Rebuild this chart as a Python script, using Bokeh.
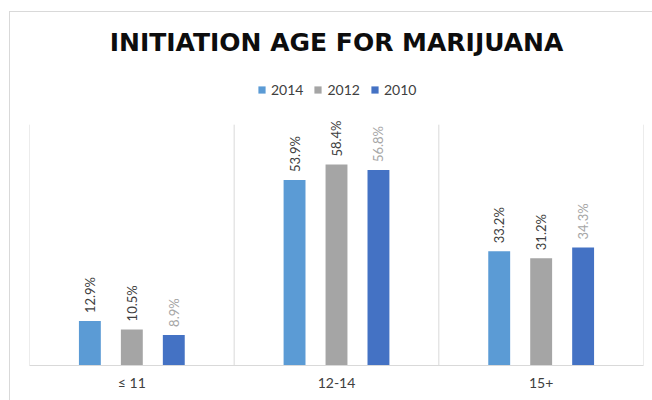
from bokeh.plotting import figure
from bokeh.models import ColumnDataSource, FactorRange, Range1d, Legend, LegendItem
from bokeh.transform import dodge
from bokeh.core.properties import value
from bokeh.embed import file_html
from bokeh.resources import INLINE

# ---- data ----
categories = ["≤ 11", "12-14", "15+"]
years = ["2014", "2012", "2010"]
v2014 = [12.9, 53.9, 33.2]
v2012 = [10.5, 58.4, 31.2]
v2010 = [8.9, 56.8, 34.3]
title_text = "INITIATION AGE FOR MARIJUANA"

# ---- style ----
bar_colors = ["#5B9BD5", "#A5A5A5", "#4472C4"]
label_colors = ["#404040", "#404040", "#A6A6A6"]
offsets = [-0.205, 0.0, 0.205]
bar_width = 0.107
axis_max = 70
FONT = "Lato"

src = ColumnDataSource(dict(cat=categories, y2014=v2014, y2012=v2012, y2010=v2010,
                            l2014=[f"{v:.1f}%" for v in v2014],
                            l2012=[f"{v:.1f}%" for v in v2012],
                            l2010=[f"{v:.1f}%" for v in v2010]))

p = figure(x_range=FactorRange(factors=categories, range_padding=0),
           y_range=Range1d(0, 106.1),
           width=652, height=400, output_backend="svg", toolbar_location=None,
           min_border_left=29, min_border_right=9, min_border_top=0, min_border_bottom=35)

p.outline_line_color = None
p.xgrid.visible = False
p.ygrid.visible = False
p.yaxis.visible = False
p.border_fill_alpha = 0
p.background_fill_alpha = 0
g = "linear-gradient(#D9D9D9, #D9D9D9)"
p.styles = {
    "background": f"{g} 9px 11px / 1px 389px no-repeat, {g} 9px 11px / 643px 1px no-repeat, #FFFFFF",
}

# category separators
n = len(categories)
bounds = list(range(n + 1))
p.segment(x0=bounds, y0=[0] * (n + 1), x1=bounds, y1=[axis_max] * (n + 1),
          line_color="#D9D9D9", line_width=1)

renderers = []
for yr, off, bc, lc in zip(years, offsets, bar_colors, label_colors):
    r = p.vbar(x=dodge("cat", off, range=p.x_range), top="y" + yr, width=bar_width,
               source=src, fill_color=bc, line_color=None)
    renderers.append(r)
    p.text(x=dodge("cat", off, range=p.x_range), y="y" + yr, text="l" + yr, source=src,
           angle=1.5708, y_offset=-8, text_align="left", text_baseline="middle",
           text_font=value(FONT), text_font_size="13px", text_color=lc)

# title
p.text(x=[n / 2], y=[93.75], text=[title_text], text_align="center", text_baseline="middle",
       text_font=value("DejaVu Sans"), text_font_style="bold", text_font_size="25px",
       text_color="#0D0D0D")

legend = Legend(items=[LegendItem(label=yr, renderers=[r]) for yr, r in zip(years, renderers)],
                orientation="horizontal", location=(228, 267),
                glyph_width=9, glyph_height=9, label_height=9, label_standoff=5, spacing=10,
                padding=0, margin=0, border_line_color=None, background_fill_alpha=0,
                label_text_font=FONT, label_text_font_size="14px", label_text_color="#404040")
p.add_layout(legend, "center")

ax = p.xaxis[0]
ax.axis_line_color = "#D9D9D9"
ax.major_tick_line_color = None
ax.minor_tick_line_color = None
ax.major_label_standoff = 2
ax.major_label_text_font = FONT
ax.major_label_text_font_size = "14px"
ax.major_label_text_color = "#404040"

open("out.html", "w").write(file_html(p, INLINE))
